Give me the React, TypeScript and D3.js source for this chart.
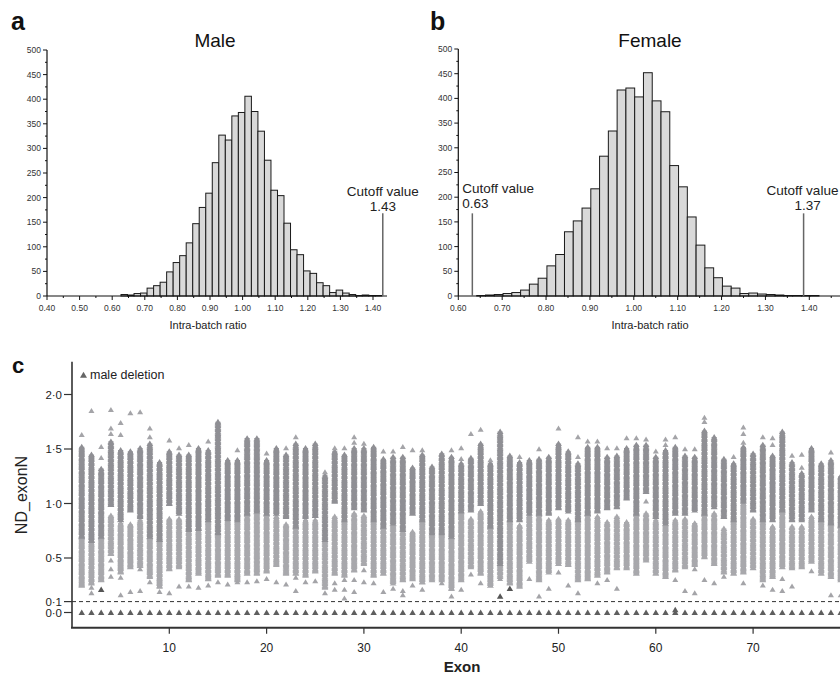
import React from "react";
import * as d3 from "d3";

const FONT = "'Liberation Sans', Arial, Helvetica, sans-serif";

// ---------- Panel a / b : histograms ----------
const binWidth = 0.02;
const maleBinStart = 0.627;
const maleCounts = [3, 2, 5, 6, 16, 21, 28, 49, 68, 82, 108, 147, 180, 209, 271, 327, 317, 366, 373, 406, 375, 335, 276, 215, 204, 148, 94, 84, 51, 46, 27, 21, 7, 12, 6, 3, 1, 2, 1, 1];
const femaleBinStart = 0.642;
const femaleCounts = [1, 2, 3, 5, 7, 12, 24, 36, 61, 84, 130, 152, 178, 217, 283, 334, 417, 421, 403, 452, 395, 373, 264, 221, 160, 103, 57, 37, 20, 16, 5, 6, 4, 3, 2, 1, 1, 1, 1];
const maleXTicks = [0.4, 0.5, 0.6, 0.7, 0.8, 0.9, 1.0, 1.1, 1.2, 1.3, 1.4];
const femaleXTicks = [0.6, 0.7, 0.8, 0.9, 1.0, 1.1, 1.2, 1.3, 1.4];
const countTicks = [0, 50, 100, 150, 200, 250, 300, 350, 400, 450, 500];
const maleCutoffPositions = [1.43];
const maleCutoffLabels = ["1.43"];
const femaleCutoffPositions = [0.632, 1.387];
const femaleCutoffLabels = ["0.63", "1.37"];

// ---------- Panel c : ND_exonN per exon ----------
const exons = d3.range(1, 80);
const upperMax = [1.52, 1.45, 1.32, 1.57, 1.49, 1.48, 1.51, 1.55, 1.38, 1.48, 1.45, 1.45, 1.51, 1.49, 1.75, 1.40, 1.40, 1.60, 1.60, 1.40, 1.51, 1.45, 1.55, 1.51, 1.55, 1.26, 1.48, 1.45, 1.51, 1.51, 1.52, 1.41, 1.43, 1.43, 1.33, 1.45, 1.34, 1.46, 1.43, 1.37, 1.42, 1.55, 1.37, 1.66, 1.44, 1.38, 1.40, 1.41, 1.43, 1.55, 1.48, 1.37, 1.52, 1.52, 1.43, 1.44, 1.51, 1.54, 1.54, 1.43, 1.49, 1.52, 1.44, 1.43, 1.67, 1.61, 1.41, 1.37, 1.52, 1.46, 1.54, 1.44, 1.66, 1.38, 1.28, 1.51, 1.37, 1.40, 1.25];
const upperMin = [0.70, 0.66, 0.70, 0.99, 0.85, 0.94, 0.88, 0.70, 0.67, 1.00, 0.91, 0.76, 0.77, 0.85, 0.73, 0.86, 0.85, 0.91, 0.93, 0.91, 0.91, 0.88, 0.79, 0.88, 0.89, 0.67, 1.02, 0.85, 0.96, 0.94, 0.85, 0.79, 0.82, 0.76, 0.91, 0.85, 0.73, 0.73, 0.70, 0.93, 0.94, 1.00, 0.79, 0.45, 0.85, 0.85, 0.91, 0.91, 0.91, 0.96, 0.93, 0.85, 0.91, 0.93, 0.96, 0.97, 1.05, 0.91, 1.11, 0.88, 0.82, 0.91, 0.91, 0.94, 0.91, 0.97, 0.88, 0.85, 1.02, 0.94, 0.85, 0.85, 0.94, 0.85, 0.85, 0.94, 0.85, 0.82, 0.80];
const lowerMax = [0.70, 0.66, 0.70, 0.89, 0.82, 0.81, 0.85, 0.70, 0.67, 0.86, 0.86, 0.76, 0.77, 0.85, 0.73, 0.85, 0.85, 0.91, 0.93, 0.91, 0.88, 0.81, 0.79, 0.85, 0.85, 0.67, 0.88, 0.85, 0.91, 0.89, 0.85, 0.79, 0.82, 0.76, 0.74, 0.85, 0.73, 0.73, 0.70, 0.93, 0.86, 0.93, 0.79, 0.45, 0.85, 0.80, 0.89, 0.91, 0.85, 0.86, 0.85, 0.85, 0.91, 0.88, 0.83, 0.88, 0.83, 0.91, 0.91, 0.85, 0.82, 0.85, 0.86, 0.82, 0.91, 0.91, 0.77, 0.85, 1.00, 0.86, 0.85, 0.79, 0.94, 0.79, 0.79, 0.88, 0.85, 0.82, 0.80];
const lowerMin = [0.25, 0.27, 0.30, 0.54, 0.37, 0.42, 0.43, 0.33, 0.24, 0.40, 0.42, 0.30, 0.36, 0.31, 0.34, 0.34, 0.30, 0.36, 0.36, 0.38, 0.44, 0.36, 0.36, 0.34, 0.38, 0.23, 0.36, 0.34, 0.39, 0.45, 0.34, 0.36, 0.27, 0.30, 0.31, 0.28, 0.30, 0.30, 0.22, 0.30, 0.42, 0.36, 0.25, 0.33, 0.27, 0.24, 0.47, 0.30, 0.37, 0.45, 0.44, 0.30, 0.31, 0.34, 0.37, 0.41, 0.41, 0.36, 0.48, 0.36, 0.33, 0.39, 0.42, 0.44, 0.51, 0.45, 0.37, 0.36, 0.37, 0.41, 0.30, 0.33, 0.42, 0.41, 0.42, 0.47, 0.36, 0.33, 0.30];
const outliers: [number, number][] = [
  [1, 1.63], [2, 1.85], [2, 0.23], [2, 0.18], [3, 1.52], [3, 1.42], [4, 1.86], [4, 1.69], [4, 1.64], [4, 0.48], [4, 0.40], [4, 0.33],
  [5, 1.74], [5, 1.63], [5, 0.32], [5, 0.16], [6, 1.83], [6, 0.19], [7, 1.84], [7, 0.40], [7, 0.20], [8, 1.69], [8, 1.61], [8, 0.28],
  [9, 0.19], [10, 1.58], [10, 0.18], [11, 1.51], [11, 0.24], [12, 1.54], [12, 0.24], [13, 0.23], [14, 1.57], [14, 0.25], [15, 0.28],
  [16, 0.26], [17, 1.49], [17, 0.28], [18, 0.28], [19, 0.29], [20, 1.46], [20, 0.31], [21, 0.28], [22, 1.51], [22, 0.26],
  [23, 1.61], [23, 0.32], [23, 0.20], [24, 0.28], [25, 0.29], [26, 1.29], [26, 0.18], [27, 1.51], [27, 0.27], [27, 0.21],
  [28, 1.51], [28, 0.30], [28, 0.21], [28, 0.13], [29, 1.61], [29, 1.56], [29, 0.30], [29, 0.19], [30, 1.55], [30, 0.39], [30, 0.28],
  [31, 0.27], [32, 1.48], [32, 0.19], [33, 1.48], [33, 0.22], [34, 1.52], [34, 0.20], [34, 0.16], [35, 1.49], [35, 0.25],
  [36, 1.49], [36, 0.21], [38, 0.27], [39, 1.49], [39, 0.15], [40, 1.51], [40, 1.41], [40, 0.21], [41, 1.64], [41, 0.35],
  [42, 1.68], [42, 0.27], [43, 1.40], [44, 0.31], [46, 1.43], [47, 0.31], [48, 1.50], [48, 0.15], [49, 0.22], [50, 1.69], [50, 0.37],
  [51, 0.25], [52, 1.61], [52, 1.43], [52, 0.18], [53, 1.57], [54, 1.57], [54, 0.27], [55, 1.51], [55, 0.30], [56, 1.51], [56, 0.22],
  [57, 1.60], [58, 1.60], [59, 1.59], [59, 1.02], [60, 1.48], [61, 1.59], [61, 1.54], [62, 1.61], [62, 0.30], [63, 1.50], [63, 0.20],
  [64, 1.50], [64, 0.40], [64, 0.18], [65, 1.79], [65, 1.75], [65, 0.30], [66, 0.27], [67, 0.33], [68, 1.43], [69, 1.70], [69, 1.64],
  [69, 1.56], [69, 0.27], [71, 1.61], [71, 0.25], [72, 1.60], [72, 1.54], [72, 0.21], [73, 0.31], [73, 0.20], [74, 1.44], [74, 0.24],
  [75, 1.45], [75, 1.33], [76, 0.38], [78, 1.47], [78, 0.16], [79, 0.16],
];
const darkOutliers: [number, number][] = [[3, 0.21], [44, 0.15], [45, 0.22]];
const deletionValue = 0.0;
const extraDeletions: [number, number][] = [[62, 0.025]];
const cYTicks = [2.0, 1.5, 1.0, 0.5, 0.1, 0.0];
const cYTickLabels = ["2·0", "1·5", "1·0", "0·5", "0·1", "0·0"];
const cXTicks = [10, 20, 30, 40, 50, 60, 70, 80];
const thresholdValue = 0.1;

function tri(cx: number, cy: number, w: number, h: number) {
  return `M${cx},${cy - h * 0.55}L${cx + w / 2},${cy + h * 0.45}L${cx - w / 2},${cy + h * 0.45}Z`;
}

// a dense column of triangle markers covering a value range (pixel spacing only)
function stackPath(cx: number, yTop: number, yBot: number) {
  let d = "";
  const step = 1.3;
  for (let p = yTop; p <= yBot + 0.01; p += step) d += tri(cx, p, 6.8, 5.4);
  if (yBot > yTop) {
    d += tri(cx, yBot, 6.8, 5.4);
    d += `M${cx - 2.6},${yTop}H${cx + 2.6}V${yBot + 2}H${cx - 2.6}Z`;
  }
  return d;
}

interface HistProps {
  counts: number[];
  binStart: number;
  xDomain: [number, number];
  xRange: [number, number];
  axisEnd: number;
  yRange: [number, number];
  xTicks: number[];
  title: string;
  titleX: number;
  labelX: number;
  letter: string;
  letterX: number;
}

function Histogram(p: HistProps) {
  const xs = d3.scaleLinear().domain(p.xDomain).range(p.xRange);
  const ys = d3.scaleLinear().domain([0, 500]).range(p.yRange);
  const x0 = p.xRange[0];
  const y0 = ys(0);
  const minorY = d3.range(25, 500, 50);
  const minorX: number[] = [];
  for (let i = 0; i < p.xTicks.length; i++) minorX.push(p.xTicks[i] + 0.05);
  const bw = xs(binWidth) - xs(0);
  return (
    <g>
      <text x={p.letterX} y={30} fontFamily={FONT} fontWeight="bold" fontSize={25} fill="#111">{p.letter}</text>
      <text x={p.titleX} y={47} fontFamily={FONT} fontSize={19} textAnchor="middle" fill="#111">{p.title}</text>
      {p.counts.map((c, i) => (
        <rect key={i} x={xs(p.binStart + i * binWidth)} y={ys(c)} width={bw} height={y0 - ys(c)} fill="#d9d9d9" stroke="#1a1a1a" strokeWidth={1} />
      ))}
      <line x1={x0} x2={x0} y1={ys(500)} y2={y0} stroke="#111" strokeWidth={1.2} />
      <line x1={x0} x2={p.axisEnd} y1={y0} y2={y0} stroke="#111" strokeWidth={1.2} />
      {countTicks.map((t) => (
        <g key={t}>
          <line x1={x0 - 4} x2={x0} y1={ys(t)} y2={ys(t)} stroke="#111" strokeWidth={1} />
          <text x={x0 - 6} y={ys(t)} dy="0.35em" textAnchor="end" fontFamily={FONT} fontSize={8.5} fill="#333">{t}</text>
        </g>
      ))}
      {minorY.map((t) => (
        <line key={t} x1={x0 - 2} x2={x0} y1={ys(t)} y2={ys(t)} stroke="#111" strokeWidth={1} />
      ))}
      {p.xTicks.map((t) => (
        <g key={t}>
          <line x1={xs(t)} x2={xs(t)} y1={y0} y2={y0 + 4} stroke="#111" strokeWidth={1} />
          <text x={xs(t)} y={311} textAnchor="middle" fontFamily={FONT} fontSize={8.5} fill="#333">{t.toFixed(2)}</text>
        </g>
      ))}
      {minorX.filter((t) => xs(t) < p.axisEnd).map((t) => (
        <line key={t} x1={xs(t)} x2={xs(t)} y1={y0} y2={y0 + 2} stroke="#111" strokeWidth={1} />
      ))}
      <text x={p.labelX} y={329} textAnchor="middle" fontFamily={FONT} fontSize={11} fill="#222">Intra-batch ratio</text>
    </g>
  );
}

export default function App() {
  const xsA = d3.scaleLinear().domain([0.4, 1.4]).range([47, 373]);
  const xsB = d3.scaleLinear().domain([0.6, 1.4]).range([458.3, 809.3]);
  const ysH = d3.scaleLinear().domain([0, 500]).range([296, 50]);
  const cutTop = ysH(168);

  const xC = d3.scaleLinear().domain([0, 80]).range([72, 72 + 9.73 * 80]);
  const yC = d3.scaleLinear().domain([0, 2]).range([612.5, 394.5]);
  const axisY = yC(-0.14);

  const aLine = xsA(maleCutoffPositions[0]);
  const bL = xsB(femaleCutoffPositions[0]);
  const bR = xsB(femaleCutoffPositions[1]);

  return (
    <svg width={840} height={674} style={{ position: "absolute", left: 0, top: 0, background: "#fff" }}>
      <rect x={0} y={0} width={840} height={674} fill="#fff" />
      <Histogram counts={maleCounts} binStart={maleBinStart} xDomain={[0.4, 1.4]} xRange={[47, 373]} axisEnd={387} yRange={[296, 50]} xTicks={maleXTicks} title="Male" titleX={215} labelX={208} letter="a" letterX={11} />
      <Histogram counts={femaleCounts} binStart={femaleBinStart} xDomain={[0.6, 1.4]} xRange={[458.3, 809.3]} axisEnd={840} yRange={[296, 49]} xTicks={femaleXTicks} title="Female" titleX={650} labelX={650} letter="b" letterX={430} />

      <line x1={aLine} x2={aLine} y1={296} y2={cutTop} stroke="#666" strokeWidth={1.5} />
      <text x={aLine} y={196} textAnchor="middle" fontFamily={FONT} fontSize={13.5} fill="#222">Cutoff value</text>
      <text x={aLine} y={211} textAnchor="middle" fontFamily={FONT} fontSize={13.5} fill="#222">{maleCutoffLabels[0]}</text>
      <line x1={bL} x2={bL} y1={296} y2={cutTop} stroke="#666" strokeWidth={1.5} />
      <text x={bL - 10} y={193} fontFamily={FONT} fontSize={13.5} fill="#222">Cutoff value</text>
      <text x={bL - 10} y={208} fontFamily={FONT} fontSize={13.5} fill="#222">{femaleCutoffLabels[0]}</text>
      <line x1={bR} x2={bR} y1={296} y2={cutTop} stroke="#666" strokeWidth={1.5} />
      <text x={bR - 37} y={195} fontFamily={FONT} fontSize={13.5} fill="#222">Cutoff value</text>
      <text x={bR + 4} y={210} textAnchor="middle" fontFamily={FONT} fontSize={13.5} fill="#222">{femaleCutoffLabels[1]}</text>

      <text x={12} y={373} fontFamily={FONT} fontWeight="bold" fontSize={22} fill="#111">c</text>
      <path d={tri(83.5, 375, 7, 6)} fill="#666" />
      <text x={90} y={379} fontFamily={FONT} fontSize={12.5} fill="#222">male deletion</text>

      <g>
        {exons.map((e, i) => (
          <path key={"l" + e} d={stackPath(xC(e), yC(lowerMax[i]), yC(lowerMin[i]))} fill="#a8a8ac" />
        ))}
        {exons.map((e, i) => (
          <path key={"u" + e} d={stackPath(xC(e), yC(upperMax[i]), yC(upperMin[i]))} fill="#8f8f94" />
        ))}
        {outliers.map(([e, v], i) => (
          <path key={"o" + i} d={tri(xC(e), yC(v), 6, 5)} fill="#a4a4a8" />
        ))}
        {darkOutliers.map(([e, v], i) => (
          <path key={"d" + i} d={tri(xC(e), yC(v), 6.5, 5.5)} fill="#555" />
        ))}
        {exons.map((e) => (
          <path key={"z" + e} d={tri(xC(e), yC(deletionValue), 6.4, 5.6)} fill="#5e5e5e" />
        ))}
        {extraDeletions.map(([e, v], i) => (
          <path key={"x" + i} d={tri(xC(e), yC(v), 6.4, 5.6)} fill="#5e5e5e" />
        ))}
      </g>

      <line x1={72} x2={840} y1={yC(thresholdValue)} y2={yC(thresholdValue)} stroke="#333" strokeWidth={1} strokeDasharray="4,3" />

      <line x1={72} x2={72} y1={yC(2.3)} y2={axisY} stroke="#333" strokeWidth={1.6} />
      <line x1={71} x2={840} y1={axisY} y2={axisY} stroke="#333" strokeWidth={2} />
      {cYTicks.map((t, i) => (
        <g key={t}>
          <line x1={64} x2={72} y1={yC(t)} y2={yC(t)} stroke="#333" strokeWidth={1.2} />
          <text x={62} y={yC(t)} dy="0.35em" textAnchor="end" fontFamily={FONT} fontSize={11.5} fill="#222">{cYTickLabels[i]}</text>
        </g>
      ))}
      {cXTicks.filter((t) => xC(t) <= 840).map((t) => (
        <g key={t}>
          <line x1={xC(t)} x2={xC(t)} y1={axisY} y2={axisY + 6} stroke="#333" strokeWidth={1.2} />
          <text x={xC(t)} y={652} textAnchor="middle" fontFamily={FONT} fontSize={12} fill="#222">{t}</text>
        </g>
      ))}
      <text x={462} y={672} textAnchor="middle" fontFamily={FONT} fontWeight="bold" fontSize={15} fill="#222">Exon</text>
      <text transform="translate(27,495) rotate(-90)" textAnchor="middle" fontFamily={FONT} fontSize={16} fill="#222">ND_exonN</text>
    </svg>
  );
}
